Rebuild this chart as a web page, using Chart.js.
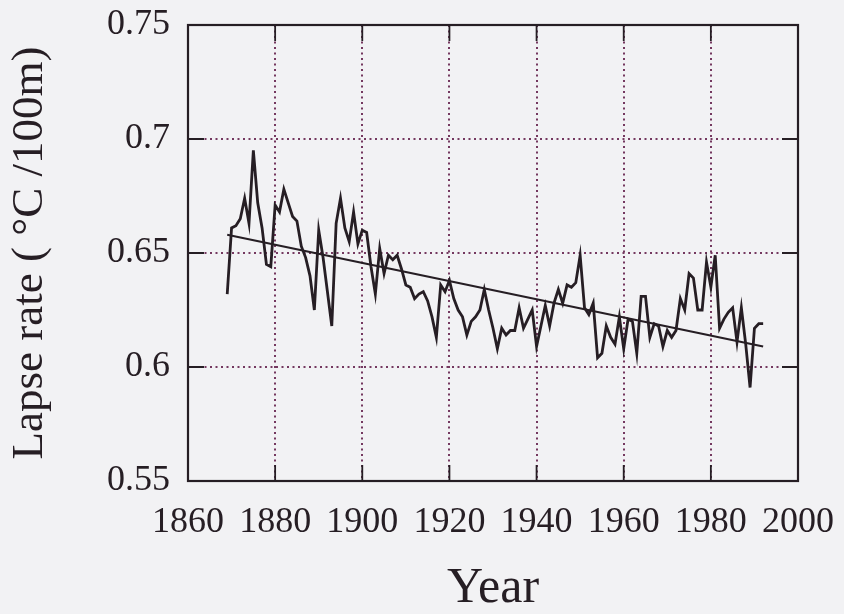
<!DOCTYPE html>
<html>
<head>
<meta charset="utf-8">
<script src="https://cdn.jsdelivr.net/npm/chart.js@4/dist/chart.umd.min.js"></script>
<style>
  html, body { margin: 0; padding: 0; background: #f2f2f4; }
  #wrap { width: 844px; height: 614px; }
</style>
</head>
<body>
<div id="wrap"><canvas id="c" width="844" height="614"></canvas></div>
<script>
// ---- data ----
const firstYear = 1869;
const lapseRate = [
  0.632, 0.661, 0.662, 0.665, 0.674, 0.663, 0.695, 0.672, 0.661, 0.645,
  0.644, 0.671, 0.668, 0.678,
  0.672, 0.666, 0.664, 0.653, 0.648, 0.640, 0.625, 0.660, 0.648, 0.633,
  0.618, 0.663, 0.674, 0.661, 0.655, 0.668, 0.654, 0.660, 0.659, 0.644,
  0.632,
  0.652, 0.641, 0.649, 0.647, 0.649, 0.643, 0.636, 0.635, 0.630, 0.632,
  0.633, 0.629, 0.622, 0.613, 0.636, 0.633, 0.638, 0.630, 0.625, 0.622,
  0.614, 0.620, 0.622, 0.625, 0.634, 0.625, 0.617, 0.608, 0.617, 0.614,
  0.616, 0.616, 0.626, 0.617, 0.621, 0.625,
  0.609, 0.618, 0.627, 0.618, 0.628, 0.634, 0.628, 0.636, 0.635, 0.637,
  0.649,
  0.626, 0.623, 0.628, 0.604, 0.606, 0.618, 0.613, 0.610, 0.622, 0.608,
  0.621, 0.620, 0.606, 0.631, 0.631, 0.613, 0.619, 0.618, 0.609, 0.616,
  0.613, 0.616, 0.630, 0.625, 0.641, 0.639, 0.625, 0.625, 0.646, 0.635,
  0.649, 0.617, 0.621, 0.624, 0.626, 0.611, 0.626, 0.610, 0.591, 0.617,
  0.619, 0.619
];
const years = lapseRate.map((_, i) => firstYear + i);
const trendYears = [1869, 1992];
const trendValues = [0.658, 0.609];
const xTicks = [1860, 1880, 1900, 1920, 1940, 1960, 1980, 2000];
const yTicks = [0.55, 0.6, 0.65, 0.7, 0.75];
const yTickLabels = ['0.55', '0.6', '0.65', '0.7', '0.75'];
const xTitle = 'Year';
const yTitle = 'Lapse rate ( \u00B0C /100m)';

// ---- styles ----
const ink = '#261e24';
const gridCol = '#74385f';
const serif = "'Liberation Serif', 'Times New Roman', serif";

const framePlugin = {
  id: 'frame',
  beforeDatasetsDraw(chart) {
    const { ctx, chartArea: a, scales } = chart;
    ctx.save();
    ctx.strokeStyle = ink;
    ctx.lineWidth = 2.2;
    ctx.setLineDash([]);
    ctx.strokeRect(a.left, a.top, a.right - a.left, a.bottom - a.top);
    const L = 16;
    ctx.beginPath();
    xTicks.slice(1, -1).forEach(v => {
      const x = scales.x.getPixelForValue(v);
      ctx.moveTo(x, a.bottom); ctx.lineTo(x, a.bottom - L);
      ctx.moveTo(x, a.top); ctx.lineTo(x, a.top + L);
    });
    yTicks.slice(1, -1).forEach(v => {
      const y = scales.y.getPixelForValue(v);
      ctx.moveTo(a.left, y); ctx.lineTo(a.left + L, y);
      ctx.moveTo(a.right, y); ctx.lineTo(a.right - L, y);
    });
    ctx.lineWidth = 1.8;
    ctx.stroke();
    ctx.restore();
  }
};

const interiorGrid = (ticks) => (c) => {
  const v = c.tick && c.tick.value;
  return (v === ticks[0] || v === ticks[ticks.length - 1]) ? 'rgba(0,0,0,0)' : gridCol;
};

new Chart(document.getElementById('c'), {
  type: 'line',
  data: {
    datasets: [
      {
        data: years.map((y, i) => ({ x: y, y: lapseRate[i] })),
        borderColor: ink, borderWidth: 2.8, pointRadius: 0, tension: 0, fill: false
      },
      {
        data: trendYears.map((y, i) => ({ x: y, y: trendValues[i] })),
        borderColor: ink, borderWidth: 2.2, pointRadius: 0, tension: 0, fill: false
      }
    ]
  },
  options: {
    responsive: false,
    animation: false,
    devicePixelRatio: 1,
    layout: { padding: { top: 25, right: 46, left: 0, bottom: 0 } },
    plugins: { legend: { display: false }, tooltip: { enabled: false } },
    scales: {
      x: {
        type: 'linear', min: 1860, max: 2000,
        afterBuildTicks: s => { s.ticks = xTicks.map(v => ({ value: v })); },
        afterFit: s => { s.height = 133; s.paddingLeft = 0; s.paddingRight = 0; },
        ticks: {
          color: ink, padding: 20, maxRotation: 0, autoSkip: false,
          font: { family: serif, size: 36 },
          callback: v => String(v)
        },
        grid: { color: interiorGrid(xTicks), lineWidth: 2, drawTicks: false },
        border: { display: false, dash: [2, 3.5] },
        title: {
          display: true, text: xTitle, color: ink,
          font: { family: serif, size: 50, lineHeight: 1.0 },
          padding: { top: 0, bottom: 0 }
        }
      },
      y: {
        type: 'linear', min: 0.55, max: 0.75,
        afterBuildTicks: s => { s.ticks = yTicks.map(v => ({ value: v })); },
        afterFit: s => { s.width = 188; s.paddingTop = 0; s.paddingBottom = 0; },
        ticks: {
          color: ink, padding: 18,
          font: { family: serif, size: 36 },
          callback: (v) => yTickLabels[yTicks.findIndex(t => Math.abs(t - v) < 1e-9)]
        },
        grid: { color: interiorGrid(yTicks), lineWidth: 2, drawTicks: false },
        border: { display: false, dash: [2, 3.5] },
        title: {
          display: true, text: yTitle, color: ink,
          font: { family: serif, size: 45, lineHeight: 1.1 },
          padding: { top: 5, bottom: 0 }
        }
      }
    }
  },
  plugins: [framePlugin]
});
</script>
</body>
</html>
